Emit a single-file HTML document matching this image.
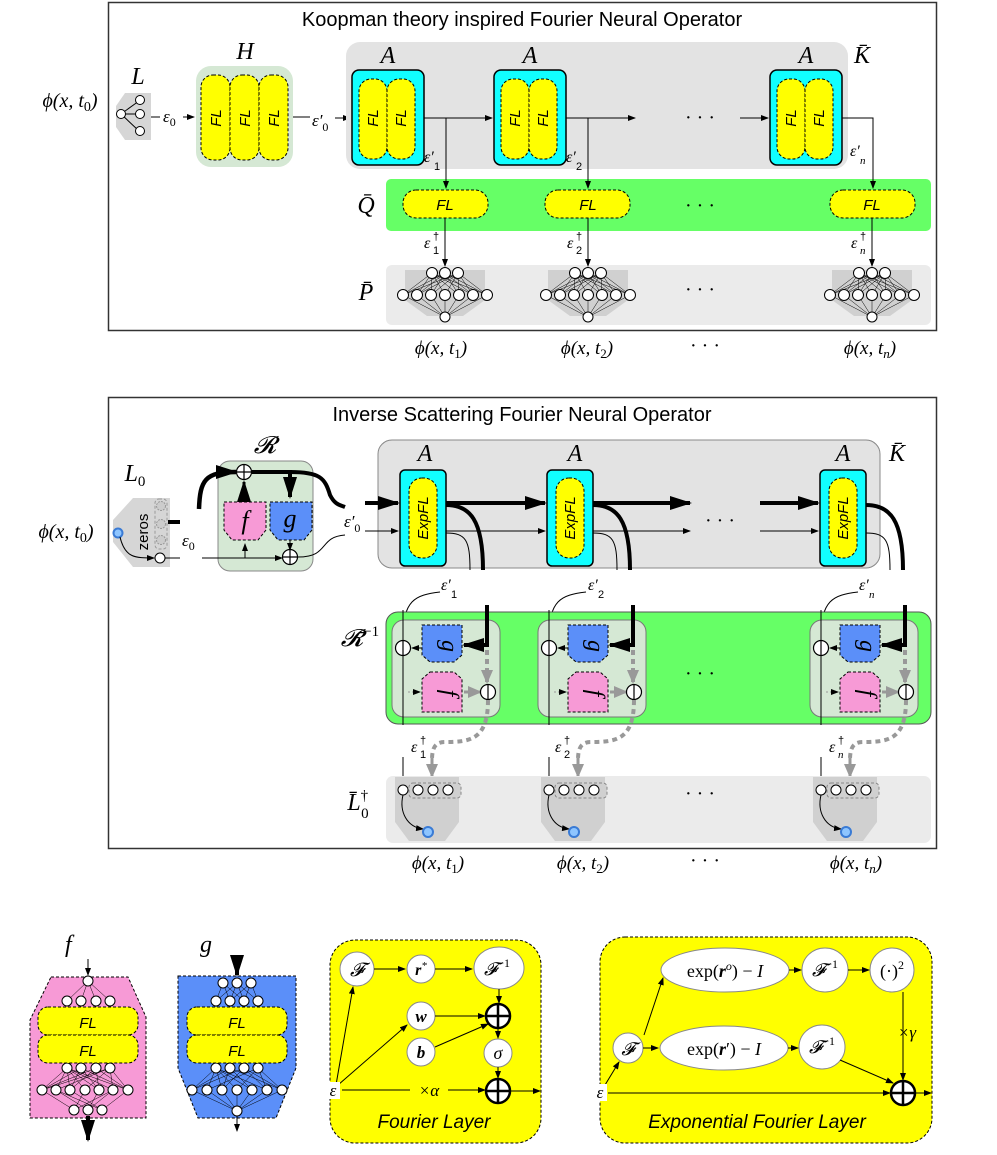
<!DOCTYPE html>
<html><head><meta charset="utf-8"><style>
body{margin:0;background:#fff}
svg{display:block}
.t{font-family:"Liberation Serif",serif;font-style:italic}
.s{font-family:"Liberation Sans",sans-serif}
.fl{font-family:"Liberation Sans",sans-serif;font-style:italic;font-size:15px}
</style></head><body>
<svg width="997" height="1155" viewBox="0 0 997 1155" xmlns="http://www.w3.org/2000/svg">
<defs>
<marker id="ar" markerWidth="8" markerHeight="6" refX="7" refY="3" orient="auto" markerUnits="userSpaceOnUse"><path d="M0,0L8,3L0,6z" fill="#000"/></marker>
<marker id="arB" markerWidth="22" markerHeight="14" refX="20" refY="7" orient="auto" markerUnits="userSpaceOnUse"><path d="M0,0L22,7L0,14z" fill="#000"/></marker>
<marker id="arG" markerWidth="14" markerHeight="12" refX="12" refY="6" orient="auto" markerUnits="userSpaceOnUse"><path d="M0,0L14,6L0,12z" fill="#999"/></marker>
<g id="net">
<path d="M-40,-22 L40,-22 L40,8 L18,24 L-18,24 L-40,8Z" fill="#d0d0d0"/>
<g stroke="#000" stroke-width="0.5">
<path d="M-13,-19L-42,3M-13,-19L-28,3M-13,-19L-14,3M-13,-19L0,3M-13,-19L14,3M-13,-19L28,3M-13,-19L42,3M0,-19L-42,3M0,-19L-28,3M0,-19L-14,3M0,-19L14,3M0,-19L28,3M0,-19L42,3M13,-19L-42,3M13,-19L-28,3M13,-19L-14,3M13,-19L0,3M13,-19L14,3M13,-19L28,3M13,-19L42,3M-42,3L0,25M-28,3L0,25M-14,3L0,25M0,3L0,25M14,3L0,25M28,3L0,25M42,3L0,25"/>
</g>
<g fill="#fff" stroke="#000" stroke-width="1">
<circle cx="-13" cy="-19" r="5.5"/><circle cx="0" cy="-19" r="5.5"/><circle cx="13" cy="-19" r="5.5"/>
<circle cx="-42" cy="3" r="5.5"/><circle cx="-28" cy="3" r="5.5"/><circle cx="-14" cy="3" r="5.5"/><circle cx="0" cy="3" r="5.5"/><circle cx="14" cy="3" r="5.5"/><circle cx="28" cy="3" r="5.5"/><circle cx="42" cy="3" r="5.5"/>
<circle cx="0" cy="25" r="5"/></g>
</g>
<g id="cyanA">
<rect x="0" y="0" width="72" height="95" rx="7" fill="#1ff" stroke="#000" stroke-width="1.5"/>
<rect x="7" y="9" width="28" height="80" rx="12" fill="#ff0" stroke="#000" stroke-dasharray="3,2"/>
<rect x="35" y="9" width="28" height="80" rx="12" fill="#ff0" stroke="#000" stroke-dasharray="3,2"/>
</g>
<g id="yfl"><rect x="0" y="0" width="85" height="28" rx="13" fill="#ff0" stroke="#000" stroke-dasharray="3,2"/></g>
<g id="expb">
<rect x="0" y="0" width="46" height="96" rx="5" fill="#1ff" stroke="#000" stroke-width="1.5"/>
<rect x="9" y="8" width="28" height="80" rx="13" fill="#ff0" stroke="#000" stroke-dasharray="3,2"/>
</g>
<g id="oplus"><circle r="7.5" fill="#fff" stroke="#000" stroke-width="1.2"/><path d="M-7.5,0H7.5M0,-7.5V7.5" stroke="#000" stroke-width="1.2"/></g>
<g id="ominus"><circle r="7.5" fill="#fff" stroke="#000" stroke-width="1.2"/><path d="M0,-7.5V7.5" stroke="#000" stroke-width="1.2"/></g>
<g id="rinv">
<rect x="0" y="0" width="108" height="97" rx="12" fill="#d5e8d4" stroke="#777"/>
<path d="M30,5 H70 V35 L62,42 H38 L30,35Z" fill="#5b8ff9" stroke="#000" stroke-dasharray="3,2"/>
<path d="M38,52 H62 L70,59 V92 H30 V59Z" fill="#f79ad6" stroke="#000" stroke-dasharray="3,2"/>
<path d="M11,-10 V105" stroke="#000" fill="none"/>
<path d="M30,28 H20" stroke="#000" marker-end="url(#ar)"/>
<path d="M16,72 H28" stroke="#999" stroke-dasharray="2,2" marker-end="url(#ar)"/>
<path d="M72,72 H88" stroke="#999" stroke-width="3" marker-end="url(#arG)"/>
<path d="M95,30 V62" stroke="#999" stroke-width="4" stroke-dasharray="5,4" marker-end="url(#arG)"/>
<path d="M95,-15 V25 H72" stroke="#000" stroke-width="4" fill="none" marker-end="url(#arB)"/>
</g>
<g id="l0d">
<path d="M8,0 H72 V45 L58,64 H22 L8,45Z" fill="#d0d0d0"/>
<rect x="22" y="6" width="52" height="15" rx="4" fill="#d0d0d0" stroke="#888" stroke-dasharray="3,2"/>
<g fill="#fff" stroke="#000"><circle cx="16" cy="13" r="5"/><circle cx="31" cy="13" r="5"/><circle cx="46" cy="13" r="5"/><circle cx="61" cy="13" r="5"/></g>
<path d="M16,18 C12,35 20,50 36,52" stroke="#000" fill="none" marker-end="url(#ar)"/>
<circle cx="41" cy="55" r="5" fill="#8ec5ff" stroke="#3a7bd5" stroke-width="2"/>
</g>
</defs>

<!-- ===== TOP BOX ===== -->
<rect x="108.5" y="2.5" width="828" height="328" fill="none" stroke="#333" stroke-width="1.5"/>
<text x="522" y="26" font-size="20" text-anchor="middle" class="s">Koopman theory inspired Fourier Neural Operator</text>
<text x="70" y="107" font-size="20" text-anchor="middle" class="t">ϕ(x, t<tspan font-size="14" dy="4" font-style="normal">0</tspan><tspan dy="-4">)</tspan></text>
<text x="138" y="84" font-size="24" text-anchor="middle" class="t">L</text>
<path d="M125,93 H151 V140 H125 L116,127 V106Z" fill="#d6d6d6"/>
<path d="M121,114 L139,101 M121,114 H139 M121,114 L139,131" stroke="#000"/>
<g fill="#fff" stroke="#000"><circle cx="121" cy="114" r="4.5"/><circle cx="140" cy="100" r="4.5"/><circle cx="140" cy="114" r="4.5"/><circle cx="140" cy="131" r="4.5"/></g>
<path d="M151,117 H160" stroke="#000"/><text x="163" y="122" font-size="17" class="t">ε<tspan font-size="12" dy="4" font-style="normal">0</tspan></text>
<path d="M183,117 H194" stroke="#000" marker-end="url(#ar)"/>
<text x="245" y="59" font-size="24" text-anchor="middle" class="t">H</text>
<rect x="196" y="66" width="97" height="101" rx="15" fill="#d5e8d4"/>
<g fill="#ff0" stroke="#000" stroke-dasharray="3,2"><rect x="201" y="75" width="29" height="85" rx="12"/><rect x="230" y="75" width="29" height="85" rx="12"/><rect x="259" y="75" width="29" height="85" rx="12"/></g>
<g class="fl"><text transform="translate(221,118) rotate(-90)" text-anchor="middle">FL</text><text transform="translate(250,118) rotate(-90)" text-anchor="middle">FL</text><text transform="translate(279,118) rotate(-90)" text-anchor="middle">FL</text></g>
<path d="M293,117 H310" stroke="#000"/><text x="312" y="126" font-size="17" class="t">ε′<tspan font-size="12" dy="5" font-style="normal">0</tspan></text>
<path d="M335,118 H350" stroke="#000" marker-end="url(#ar)"/>
<rect x="346" y="42" width="502" height="127" rx="14" fill="#e3e3e3"/>
<rect x="386" y="179" width="545" height="52" rx="5" fill="#66ff66"/>
<rect x="386" y="265" width="545" height="60" rx="6" fill="#ebebeb"/>
<text x="388" y="63" font-size="24" text-anchor="middle" class="t">A</text>
<text x="530" y="63" font-size="24" text-anchor="middle" class="t">A</text>
<text x="806" y="63" font-size="24" text-anchor="middle" class="t">A</text>
<text x="862" y="63" font-size="24" text-anchor="middle" class="t">K̄</text>
<use href="#cyanA" x="352" y="70"/><use href="#cyanA" x="494" y="70"/><use href="#cyanA" x="770" y="70"/>
<g class="fl"><text transform="translate(378,118) rotate(-90)" text-anchor="middle">FL</text><text transform="translate(406,118) rotate(-90)" text-anchor="middle">FL</text>
<text transform="translate(520,118) rotate(-90)" text-anchor="middle">FL</text><text transform="translate(548,118) rotate(-90)" text-anchor="middle">FL</text>
<text transform="translate(796,118) rotate(-90)" text-anchor="middle">FL</text><text transform="translate(824,118) rotate(-90)" text-anchor="middle">FL</text></g>
<path d="M424,118 H492" stroke="#000" marker-end="url(#ar)"/>
<path d="M566,118 H635" stroke="#000" marker-end="url(#ar)"/>
<path d="M740,118 H768" stroke="#000" marker-end="url(#ar)"/>
<text x="700" y="124" font-size="20" text-anchor="middle">· · ·</text>
<path d="M842,118 H873 V188" stroke="#000" fill="none" marker-end="url(#ar)"/>
<path d="M446,118 V188" stroke="#000" marker-end="url(#ar)"/>
<path d="M588,118 V188" stroke="#000" marker-end="url(#ar)"/>
<text x="424" y="162" font-size="16" class="t">ε′</text><text x="434" y="170" font-size="11" class="s">1</text>
<text x="566" y="162" font-size="16" class="t">ε′</text><text x="576" y="170" font-size="11" class="s">2</text>
<text x="850" y="156" font-size="16" class="t">ε′</text><text x="860" y="164" font-size="11" class="t">n</text>
<text x="366" y="213" font-size="24" text-anchor="middle" class="t">Q̄</text>
<use href="#yfl" x="403" y="190"/><use href="#yfl" x="545" y="190"/><use href="#yfl" x="830" y="190"/>
<text x="445" y="210" class="fl" text-anchor="middle">FL</text><text x="588" y="210" class="fl" text-anchor="middle">FL</text><text x="872" y="210" class="fl" text-anchor="middle">FL</text>
<text x="700" y="212" font-size="20" text-anchor="middle">· · ·</text>
<path d="M445,218 V266" stroke="#000" marker-end="url(#ar)"/><path d="M588,218 V266" stroke="#000" marker-end="url(#ar)"/><path d="M872,218 V266" stroke="#000" marker-end="url(#ar)"/>
<text x="424" y="248" font-size="16" class="t">ε</text><text x="433" y="240" font-size="11" class="s">†</text><text x="433" y="254" font-size="11" class="s">1</text>
<text x="567" y="248" font-size="16" class="t">ε</text><text x="576" y="240" font-size="11" class="s">†</text><text x="576" y="254" font-size="11" class="s">2</text>
<text x="851" y="248" font-size="16" class="t">ε</text><text x="860" y="240" font-size="11" class="s">†</text><text x="860" y="254" font-size="11" class="t">n</text>
<text x="366" y="300" font-size="24" text-anchor="middle" class="t">P̄</text>
<use href="#net" x="445" y="292"/><use href="#net" x="588" y="292"/><use href="#net" x="872" y="292"/>
<text x="700" y="296" font-size="20" text-anchor="middle">· · ·</text>
<text x="441" y="354" font-size="19" text-anchor="middle" class="t">ϕ(x, t<tspan font-size="13" dy="4" font-style="normal">1</tspan><tspan dy="-4">)</tspan></text>
<text x="587" y="354" font-size="19" text-anchor="middle" class="t">ϕ(x, t<tspan font-size="13" dy="4" font-style="normal">2</tspan><tspan dy="-4">)</tspan></text>
<text x="705" y="352" font-size="20" text-anchor="middle">· · ·</text>
<text x="870" y="354" font-size="19" text-anchor="middle" class="t">ϕ(x, t<tspan font-size="13" dy="4">n</tspan><tspan dy="-4">)</tspan></text>

<!-- ===== SECOND BOX ===== -->
<rect x="108.5" y="397.5" width="828" height="451" fill="none" stroke="#333" stroke-width="1.5"/>
<text x="522" y="421" font-size="20" text-anchor="middle" class="s">Inverse Scattering Fourier Neural Operator</text>
<text x="66" y="538" font-size="20" text-anchor="middle" class="t">ϕ(x, t<tspan font-size="14" dy="4" font-style="normal">0</tspan><tspan dy="-4">)</tspan></text>
<text x="135" y="481" font-size="24" text-anchor="middle" class="t">L<tspan font-size="15" dy="5" font-style="normal">0</tspan></text>
<path d="M133,498 H170 V567 H133 L113,542 V520Z" fill="#d6d6d6"/>
<text transform="translate(148,532) rotate(-90)" font-size="15" class="s" text-anchor="middle">zeros</text>
<rect x="155" y="499" width="12" height="50" rx="4" fill="none" stroke="#999" stroke-dasharray="3,2"/>
<g fill="#ccc" stroke="#999" stroke-dasharray="2,1"><circle cx="161" cy="506" r="4.5"/><circle cx="161" cy="524" r="4.5"/><circle cx="161" cy="540" r="4.5"/></g>
<circle cx="118" cy="533" r="4.5" fill="#8ec5ff" stroke="#3a7bd5" stroke-width="2"/>
<path d="M120,537 C125,558 135,558 154,558" stroke="#000" fill="none" marker-end="url(#ar)"/>
<circle cx="160" cy="558" r="5" fill="#fff" stroke="#000"/>
<path d="M165,558 H180" stroke="#000"/>
<path d="M168,522 H180" stroke="#000" stroke-width="4"/>
<text x="182" y="546" font-size="17" class="t">ε<tspan font-size="12" dy="4" font-style="normal">0</tspan></text>
<text x="265" y="453" font-size="24" text-anchor="middle" class="t">𝓡</text>
<rect x="218" y="461" width="95" height="110" rx="12" fill="#d5e8d4" stroke="#888"/>
<path d="M224,502 H266 V530 L258,540 H232 L224,530Z" fill="#f79ad6" stroke="#000" stroke-dasharray="3,2"/>
<path d="M270,502 H312 V530 L304,540 H278 L270,530Z" fill="#5b8ff9" stroke="#000" stroke-dasharray="3,2"/>
<text x="245" y="529" font-size="26" text-anchor="middle" class="t">f</text>
<text x="290" y="527" font-size="26" text-anchor="middle" class="t">g</text>
<path d="M199,509 C200,480 205,472 236,472" stroke="#000" stroke-width="4.5" fill="none" marker-end="url(#arB)"/>
<use href="#oplus" x="244" y="472"/>
<path d="M252,472 H290 V497" stroke="#000" stroke-width="4" fill="none" marker-end="url(#arB)"/>
<path d="M290,472 C320,472 325,478 330,495 C335,505 340,505 345,507" stroke="#000" stroke-width="4" fill="none"/>
<path d="M244,502 V482" stroke="#000" stroke-width="3" marker-end="url(#arB)"/>
<path d="M202,558 H282" stroke="#000" marker-end="url(#ar)"/>
<path d="M245,558 V544" stroke="#000" marker-end="url(#ar)"/>
<path d="M290,540 V550" stroke="#000" marker-end="url(#ar)"/>
<use href="#oplus" x="290" y="557"/>
<path d="M298,557 C330,557 318,537 345,535" stroke="#000" fill="none"/>
<text x="344" y="527" font-size="17" class="t">ε′<tspan font-size="12" dy="5" font-style="normal">0</tspan></text>
<rect x="378" y="440" width="502" height="128" rx="14" fill="#e3e3e3" stroke="#888"/>
<text x="575" y="461" font-size="24" text-anchor="middle" class="t">A</text>
<text x="425" y="461" font-size="24" text-anchor="middle" class="t">A</text>
<text x="843" y="461" font-size="24" text-anchor="middle" class="t">A</text>
<text x="897" y="461" font-size="24" text-anchor="middle" class="t">K̄</text>
<path d="M365,503 H398" stroke="#000" stroke-width="4" marker-end="url(#arB)"/>
<path d="M365,531 H398" stroke="#000" marker-end="url(#ar)"/>
<use href="#expb" x="400" y="470"/><use href="#expb" x="547" y="470"/><use href="#expb" x="820" y="470"/>
<g class="fl"><text transform="translate(428,518) rotate(-90)" text-anchor="middle">ExpFL</text><text transform="translate(575,518) rotate(-90)" text-anchor="middle">ExpFL</text><text transform="translate(848,518) rotate(-90)" text-anchor="middle">ExpFL</text></g>
<path d="M446,503 H545" stroke="#000" stroke-width="4" marker-end="url(#arB)"/>
<path d="M593,503 H690" stroke="#000" stroke-width="4" marker-end="url(#arB)"/>
<path d="M760,503 H818" stroke="#000" stroke-width="4" marker-end="url(#arB)"/>
<path d="M446,531 H545" stroke="#000" marker-end="url(#ar)"/>
<path d="M593,531 H690" stroke="#000" marker-end="url(#ar)"/>
<path d="M760,531 H818" stroke="#000" marker-end="url(#ar)"/>
<text x="720" y="527" font-size="20" text-anchor="middle">· · ·</text>
<g fill="none" stroke="#000">
<path d="M446,505 C470,505 483,520 483,570" stroke-width="4"/><path d="M446,533 C466,533 470,540 470,570"/>
<path d="M593,505 C617,505 630,520 630,570" stroke-width="4"/><path d="M593,533 C613,533 617,540 617,570"/>
<path d="M866,505 C890,505 903,520 903,570" stroke-width="4"/><path d="M866,533 C886,533 890,540 890,570"/>
</g>
<text x="441" y="590" font-size="16" class="t">ε′</text><text x="451" y="598" font-size="11" class="s">1</text>
<text x="588" y="590" font-size="16" class="t">ε′</text><text x="598" y="598" font-size="11" class="s">2</text>
<text x="859" y="590" font-size="16" class="t">ε′</text><text x="869" y="598" font-size="11" class="t">n</text>
<g fill="none" stroke="#000">
<path d="M440,592 C415,595 403,600 403,638" marker-end="url(#ar)"/>
<path d="M586,592 C561,595 549,600 549,638" marker-end="url(#ar)"/>
<path d="M858,592 C833,595 821,600 821,638" marker-end="url(#ar)"/>
</g>
<rect x="386" y="612" width="545" height="112" rx="12" fill="#66ff66" stroke="#555"/>
<text x="360" y="646" font-size="24" text-anchor="middle" class="t">𝓡̄<tspan font-size="15" dy="-10" font-style="normal">−1</tspan></text>
<use href="#rinv" x="392" y="620"/><use href="#rinv" x="538" y="620"/><use href="#rinv" x="810" y="620"/>
<use href="#ominus" x="403" y="648"/><use href="#ominus" x="488" y="692"/>
<use href="#ominus" x="549" y="648"/><use href="#ominus" x="634" y="692"/>
<use href="#ominus" x="821" y="648"/><use href="#ominus" x="906" y="692"/>
<g font-size="24" class="t" text-anchor="middle">
<text transform="translate(442,646) rotate(90)">g</text><text transform="translate(442,693) rotate(90)">f</text>
<text transform="translate(588,646) rotate(90)">g</text><text transform="translate(588,693) rotate(90)">f</text>
<text transform="translate(860,646) rotate(90)">g</text><text transform="translate(860,693) rotate(90)">f</text>
</g>
<text x="700" y="680" font-size="20" text-anchor="middle">· · ·</text>
<g fill="none" stroke="#999" stroke-width="4" stroke-dasharray="5,4">
<path d="M488,700 C488,740 470,742 445,742 C435,742 432,748 432,760"/>
<path d="M634,700 C634,740 616,742 591,742 C581,742 578,748 578,760"/>
<path d="M906,700 C906,740 888,742 863,742 C853,742 850,748 850,760"/>
</g>
<g stroke="#999" stroke-width="3"><path d="M432,758 V776" marker-end="url(#arG)"/><path d="M578,758 V776" marker-end="url(#arG)"/><path d="M850,758 V776" marker-end="url(#arG)"/></g>
<text x="411" y="752" font-size="16" class="t">ε</text><text x="420" y="744" font-size="11" class="s">†</text><text x="420" y="758" font-size="11" class="s">1</text>
<text x="555" y="752" font-size="16" class="t">ε</text><text x="564" y="744" font-size="11" class="s">†</text><text x="564" y="758" font-size="11" class="s">2</text>
<text x="829" y="752" font-size="16" class="t">ε</text><text x="838" y="744" font-size="11" class="s">†</text><text x="838" y="758" font-size="11" class="t">n</text>
<g stroke="#000"><path d="M403,757 V783" marker-end="url(#ar)"/><path d="M549,757 V783" marker-end="url(#ar)"/><path d="M821,757 V783" marker-end="url(#ar)"/></g>
<rect x="386" y="776" width="545" height="67" rx="7" fill="#ebebeb"/>
<use href="#l0d" x="387" y="777"/><use href="#l0d" x="533" y="777"/><use href="#l0d" x="805" y="777"/>
<text x="358" y="810" font-size="24" text-anchor="middle" class="t">L̄<tspan font-size="15" dy="-10" font-style="normal">†</tspan><tspan font-size="15" dx="-7" dy="18" font-style="normal">0</tspan></text>
<text x="700" y="800" font-size="20" text-anchor="middle">· · ·</text>
<text x="438" y="869" font-size="19" text-anchor="middle" class="t">ϕ(x, t<tspan font-size="13" dy="4" font-style="normal">1</tspan><tspan dy="-4">)</tspan></text>
<text x="583" y="869" font-size="19" text-anchor="middle" class="t">ϕ(x, t<tspan font-size="13" dy="4" font-style="normal">2</tspan><tspan dy="-4">)</tspan></text>
<text x="705" y="867" font-size="20" text-anchor="middle">· · ·</text>
<text x="856" y="869" font-size="19" text-anchor="middle" class="t">ϕ(x, t<tspan font-size="13" dy="4">n</tspan><tspan dy="-4">)</tspan></text>

<!-- ===== BOTTOM: f ===== -->
<text x="65" y="952" font-size="24" class="t">f</text>
<path d="M51,977 H128 L146,1017 V1118 H30 V1020Z" fill="#f79ad6" stroke="#000" stroke-dasharray="3,2"/>
<path d="M88,959 V975" stroke="#000" marker-end="url(#ar)"/>
<g stroke="#000" stroke-width="0.5" fill="none"><path d="M88,981L67,1001M88,981L81,1001M88,981L96,1001M88,981L110,1001"/>
<path d="M67,1068L42,1090M67,1068L56,1090M67,1068L70,1090M67,1068L85,1090M67,1068L99,1090M67,1068L113,1090M67,1068L128,1090M81,1068L42,1090M81,1068L70,1090M81,1068L99,1090M81,1068L128,1090M96,1068L42,1090M96,1068L70,1090M96,1068L99,1090M96,1068L128,1090M110,1068L42,1090M110,1068L56,1090M110,1068L85,1090M110,1068L113,1090M110,1068L128,1090M42,1090L74,1110M56,1090L88,1110M70,1090L102,1110M85,1090L74,1110M99,1090L88,1110M113,1090L74,1110M128,1090L102,1110M56,1090L102,1110M113,1090L88,1110"/></g>
<g fill="#fff" stroke="#000"><circle cx="88" cy="981" r="5"/><circle cx="67" cy="1001" r="5"/><circle cx="81" cy="1001" r="5"/><circle cx="96" cy="1001" r="5"/><circle cx="110" cy="1001" r="5"/>
<circle cx="67" cy="1068" r="5"/><circle cx="81" cy="1068" r="5"/><circle cx="96" cy="1068" r="5"/><circle cx="110" cy="1068" r="5"/>
<circle cx="42" cy="1090" r="5"/><circle cx="56" cy="1090" r="5"/><circle cx="70" cy="1090" r="5"/><circle cx="85" cy="1090" r="5"/><circle cx="99" cy="1090" r="5"/><circle cx="113" cy="1090" r="5"/><circle cx="128" cy="1090" r="5"/>
<circle cx="74" cy="1110" r="5"/><circle cx="88" cy="1110" r="5"/><circle cx="102" cy="1110" r="5"/></g>
<g fill="#ff0" stroke="#000" stroke-dasharray="3,2"><rect x="38" y="1007" width="100" height="28" rx="10"/><rect x="38" y="1035" width="100" height="28" rx="10"/></g>
<text x="88" y="1028" class="fl" font-size="17" text-anchor="middle">FL</text><text x="88" y="1056" class="fl" font-size="17" text-anchor="middle">FL</text>
<path d="M88,1116 V1140" stroke="#000" stroke-width="4" marker-end="url(#arB)"/>

<!-- g -->
<text x="200" y="952" font-size="24" class="t">g</text>
<path d="M178,976 H296 V1068 L276,1118 H198 L178,1068Z" fill="#5b8ff9" stroke="#000" stroke-dasharray="3,2"/>
<path d="M237,955 V975" stroke="#000" stroke-width="4" marker-end="url(#arB)"/>
<g stroke="#000" stroke-width="0.5" fill="none"><path d="M223,983L216,1001M223,983L230,1001M223,983L244,1001M237,983L216,1001M237,983L230,1001M237,983L244,1001M237,983L258,1001M251,983L230,1001M251,983L244,1001M251,983L258,1001"/>
<path d="M216,1068L192,1090M216,1068L207,1090M216,1068L222,1090M216,1068L237,1090M216,1068L252,1090M216,1068L267,1090M230,1068L192,1090M230,1068L222,1090M230,1068L252,1090M230,1068L282,1090M244,1068L192,1090M244,1068L222,1090M244,1068L267,1090M244,1068L282,1090M258,1068L207,1090M258,1068L237,1090M258,1068L267,1090M258,1068L282,1090M192,1090L237,1111M207,1090L237,1111M222,1090L237,1111M237,1090L237,1111M252,1090L237,1111M267,1090L237,1111M282,1090L237,1111"/></g>
<g fill="#fff" stroke="#000"><circle cx="223" cy="983" r="5"/><circle cx="237" cy="983" r="5"/><circle cx="251" cy="983" r="5"/>
<circle cx="216" cy="1001" r="5"/><circle cx="230" cy="1001" r="5"/><circle cx="244" cy="1001" r="5"/><circle cx="258" cy="1001" r="5"/>
<circle cx="216" cy="1068" r="5"/><circle cx="230" cy="1068" r="5"/><circle cx="244" cy="1068" r="5"/><circle cx="258" cy="1068" r="5"/>
<circle cx="192" cy="1090" r="5"/><circle cx="207" cy="1090" r="5"/><circle cx="222" cy="1090" r="5"/><circle cx="237" cy="1090" r="5"/><circle cx="252" cy="1090" r="5"/><circle cx="267" cy="1090" r="5"/><circle cx="282" cy="1090" r="5"/>
<circle cx="237" cy="1111" r="5"/></g>
<g fill="#ff0" stroke="#000" stroke-dasharray="3,2"><rect x="187" y="1007" width="100" height="28" rx="10"/><rect x="187" y="1035" width="100" height="28" rx="10"/></g>
<text x="237" y="1028" class="fl" font-size="17" text-anchor="middle">FL</text><text x="237" y="1056" class="fl" font-size="17" text-anchor="middle">FL</text>
<path d="M237,1116 V1131" stroke="#000" marker-end="url(#ar)"/>

<!-- Fourier Layer -->
<rect x="330" y="940" width="211" height="203" rx="25" fill="#ff0" stroke="#000" stroke-dasharray="3,2"/>
<g fill="#fff" stroke="#888"><circle cx="357" cy="969" r="17"/><circle cx="421" cy="969" r="14"/><ellipse cx="499" cy="968" rx="25" ry="21"/><circle cx="421" cy="1016" r="14"/><circle cx="421" cy="1052" r="14"/><circle cx="498" cy="1053" r="14"/></g>
<g stroke="#000" fill="none">
<path d="M374,969 H405" marker-end="url(#ar)"/><path d="M435,969 H472" marker-end="url(#ar)"/>
<path d="M499,989 V1003" marker-end="url(#ar)"/><path d="M435,1016 H485" marker-end="url(#ar)"/>
<path d="M435,1047 L488,1024" marker-end="url(#ar)"/><path d="M498,1028 V1038" marker-end="url(#ar)"/>
<path d="M498,1067 V1078" marker-end="url(#ar)"/>
<path d="M336,1085 L353,987" marker-end="url(#ar)"/><path d="M338,1085 L407,1025" marker-end="url(#ar)"/>
<path d="M342,1090 H410 M448,1090 H485" /><path d="M476,1090 H485" marker-end="url(#ar)"/>
<path d="M511,1091 H540" marker-end="url(#ar)"/>
</g>
<g><circle cx="498" cy="1016" r="12" fill="#fff" stroke="#000" stroke-width="2.5"/><path d="M486,1016H510M498,1004V1028" stroke="#000" stroke-width="2.5"/>
<circle cx="498" cy="1091" r="12" fill="#fff" stroke="#000" stroke-width="2.5"/><path d="M486,1091H510M498,1079V1103" stroke="#000" stroke-width="2.5"/></g>
<rect x="326" y="1082" width="14" height="17" fill="#fff"/>
<text x="333" y="1096" font-size="17" class="t" text-anchor="middle">ε</text>
<text x="357" y="976" font-size="19" class="t" text-anchor="middle">𝓕</text>
<text x="421" y="975" font-size="16" text-anchor="middle" font-family="Liberation Serif" font-weight="bold" font-style="italic">r<tspan font-size="11" dy="-6" font-weight="normal">*</tspan></text>
<text x="497" y="975" font-size="18" class="t" text-anchor="middle">𝓕<tspan font-size="12" dy="-8" font-style="normal">−1</tspan></text>
<text x="421" y="1022" font-size="17" text-anchor="middle" font-family="Liberation Serif" font-weight="bold" font-style="italic">w</text>
<text x="421" y="1058" font-size="17" text-anchor="middle" font-family="Liberation Serif" font-weight="bold" font-style="italic">b</text>
<text x="498" y="1059" font-size="18" class="t" text-anchor="middle">σ</text>
<text x="429" y="1096" font-size="17" class="t" text-anchor="middle">×α</text>
<text x="434" y="1128" font-size="19" text-anchor="middle" font-family="Liberation Sans" font-style="italic">Fourier Layer</text>

<!-- Exponential FL -->
<rect x="600" y="937" width="332" height="206" rx="25" fill="#ff0" stroke="#000" stroke-dasharray="3,2"/>
<g fill="#fff" stroke="#888"><circle cx="628" cy="1048" r="15"/><ellipse cx="725" cy="970" rx="64" ry="22"/><ellipse cx="825" cy="970" rx="23" ry="22"/><ellipse cx="892" cy="970" rx="22" ry="22"/>
<ellipse cx="724" cy="1048" rx="64" ry="22"/><ellipse cx="822" cy="1047" rx="23" ry="22"/></g>
<g stroke="#000" fill="none">
<path d="M643,1048 H658" marker-end="url(#ar)"/><path d="M644,1035 L663,978" marker-end="url(#ar)"/>
<path d="M789,970 H801" marker-end="url(#ar)"/><path d="M848,970 H869" marker-end="url(#ar)"/>
<path d="M788,1048 H798" marker-end="url(#ar)"/>
<path d="M903,992 V1080" marker-end="url(#ar)"/>
<path d="M840,1060 L893,1083" marker-end="url(#ar)"/>
<path d="M605,1085 L619,1062" marker-end="url(#ar)"/>
<path d="M608,1093 H890" marker-end="url(#ar)"/>
<path d="M915,1093 H931" marker-end="url(#ar)"/>
</g>
<circle cx="903" cy="1093" r="12" fill="#fff" stroke="#000" stroke-width="2.5"/><path d="M891,1093H915M903,1081V1105" stroke="#000" stroke-width="2.5"/>
<rect x="593" y="1084" width="14" height="17" fill="#fff"/>
<text x="600" y="1098" font-size="17" class="t" text-anchor="middle">ε</text>
<text x="628" y="1055" font-size="18" class="t" text-anchor="middle">𝓕</text>
<text x="725" y="977" font-size="18" text-anchor="middle" font-family="Liberation Serif">exp(<tspan font-weight="bold" font-style="italic">r</tspan><tspan font-size="12" dy="-7" font-style="italic">o</tspan><tspan dy="7">) − </tspan><tspan font-style="italic">I</tspan></text>
<text x="724" y="1055" font-size="18" text-anchor="middle" font-family="Liberation Serif">exp(<tspan font-weight="bold" font-style="italic">r</tspan>′) − <tspan font-style="italic">I</tspan></text>
<text x="825" y="976" font-size="18" class="t" text-anchor="middle">𝓕<tspan font-size="12" dy="-8" font-style="normal">−1</tspan></text>
<text x="822" y="1053" font-size="18" class="t" text-anchor="middle">𝓕<tspan font-size="12" dy="-8" font-style="normal">−1</tspan></text>
<text x="892" y="977" font-size="18" text-anchor="middle" font-family="Liberation Serif">(·)<tspan font-size="12" dy="-8">2</tspan></text>
<text x="907" y="1038" font-size="17" class="t" text-anchor="middle">×γ</text>
<text x="757" y="1128" font-size="19" text-anchor="middle" font-family="Liberation Sans" font-style="italic">Exponential Fourier Layer</text>
</svg>
</body></html>
